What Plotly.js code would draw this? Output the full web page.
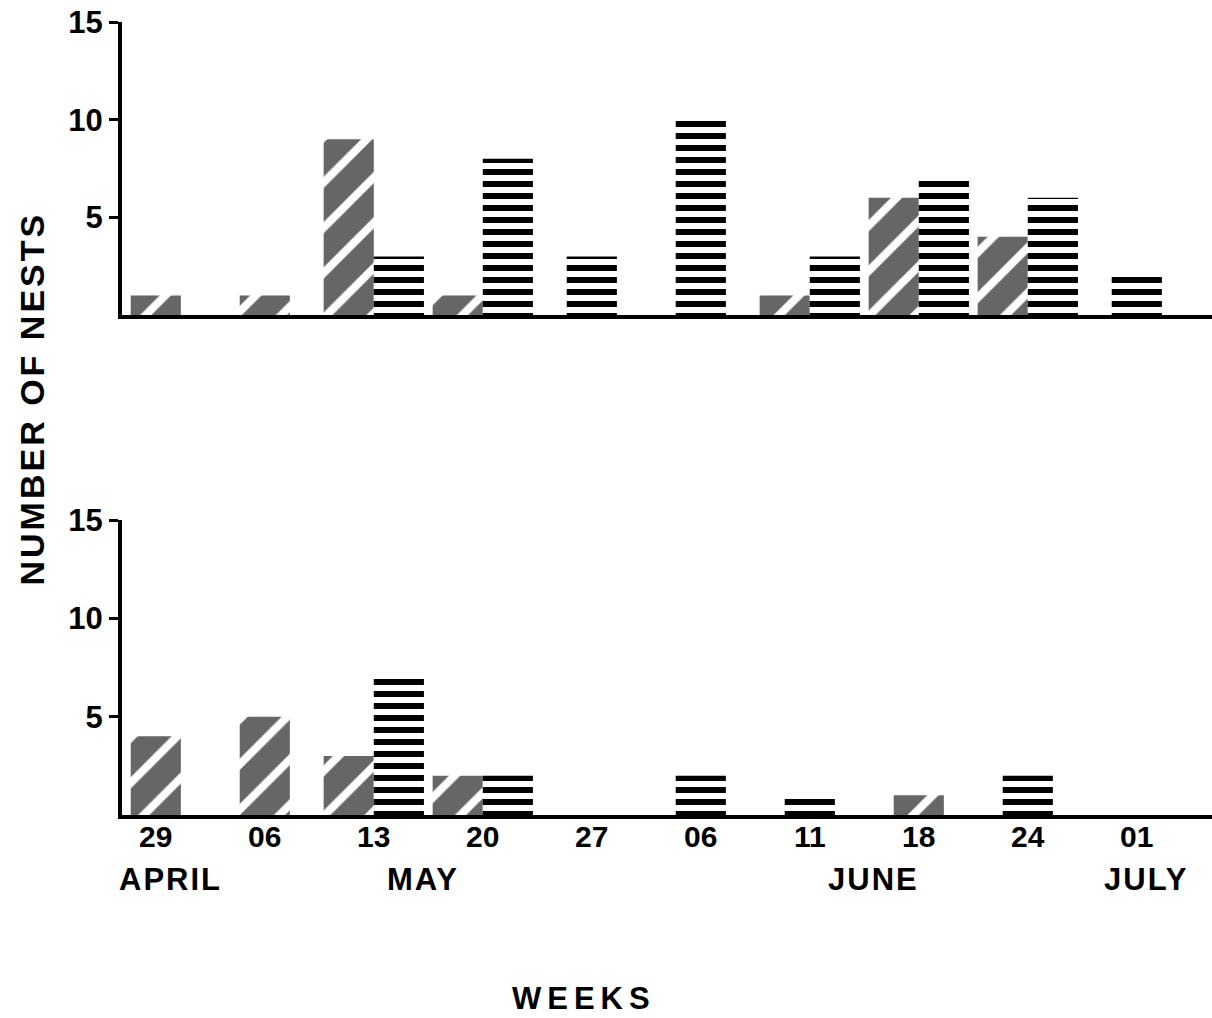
<!DOCTYPE html>
<html><head><meta charset="utf-8">
<script src="https://cdn.plot.ly/plotly-3.0.1.min.js"></script>
<style>html,body{margin:0;padding:0;background:#fff}</style>
</head><body>
<div id="chart" style="width:1212px;height:1018px"></div>
<script>
// ---- data ----
const weeks = ['29 Apr','06 May','13 May','20 May','27 May','06 Jun','11 Jun','18 Jun','24 Jun','01 Jul'];
const dayLabels = ['29','06','13','20','27','06','11','18','24','01'];
const monthLabels = ['APRIL','MAY','JUNE','JULY'];
const yTicks = [5,10,15];
const topDiagonal = [1,1,9,1,0,0,1,6,4,0];
const topHorizontal = [0,0,3,8,3,10,3,7,6,2];
const bottomDiagonal = [4,5,3,2,0,0,0,1,0,0];
const bottomHorizontal = [0,0,7,2,0,2,1,0,2,0];

// ---- styling ----
const BW = 0.46;
function offs(own, other, first){
  return own.map((v,i)=> other[i] > 0 ? (first ? -BW : 0) : -BW/2);
}
const diagPattern = {shape:'/', bgcolor:'#666666', fgcolor:'#ffffff', size:32, solidity:0.25, fillmode:'replace'};
const horizPattern = {shape:'-', bgcolor:'#ffffff', fgcolor:'#000000', size:12, solidity:0.5, fillmode:'replace'};

function diagTrace(vals, other, xa, ya){
  return {type:'bar', x:weeks, y:vals, xaxis:xa, yaxis:ya, width:BW, offset:offs(vals, other, true),
    marker:{color:'#666666', pattern:diagPattern, line:{width:0}}, hoverinfo:'skip'};
}
function horizTrace(vals, other, xa, ya){
  return {type:'bar', x:weeks, y:vals, xaxis:xa, yaxis:ya, width:BW, offset:offs(vals, other, false),
    marker:{color:'#ffffff', pattern:horizPattern, line:{width:0}}, hoverinfo:'skip'};
}

const data = [
  diagTrace(topDiagonal, topHorizontal, 'x', 'y'),
  horizTrace(topHorizontal, topDiagonal, 'x', 'y'),
  diagTrace(bottomDiagonal, bottomHorizontal, 'x2', 'y2'),
  horizTrace(bottomHorizontal, bottomDiagonal, 'x2', 'y2')
];

const FONT = 'Liberation Sans, Arial, Helvetica, sans-serif';
const xCommon = {type:'category', range:[-0.31, 9.69], domain:[122/1212, 1], showline:true, linewidth:4, linecolor:'#000',
  showgrid:false, zeroline:false, ticks:'', fixedrange:true};
const yCommon = {range:[0,15], tickvals:yTicks, ticks:'outside', ticklen:9, tickwidth:3, tickcolor:'#000',
  showline:true, linewidth:4, linecolor:'#000', showgrid:false, zeroline:false, fixedrange:true,
  tickfont:{family:FONT, size:31, color:'#000', weight:'bold'}};

const monthX = [171, 423, 873, 1146].map(v=>v/1212);
const annotations = monthLabels.map((m,i)=>({text:m, xref:'paper', yref:'paper', x:monthX[i], y:1-879/1018,
  xanchor:'center', yanchor:'middle', showarrow:false, font:{family:FONT, size:31, color:'#000', weight:'bold'}}));
annotations.push({text:'NUMBER OF NESTS', xref:'paper', yref:'paper', x:32/1212, y:1-399/1018, textangle:-90,
  xanchor:'center', yanchor:'middle', showarrow:false, font:{family:FONT, size:34, color:'#000', weight:'bold'}});
annotations.push({text:'WEEKS', xref:'paper', yref:'paper', x:584/1212, y:1-998/1018,
  xanchor:'center', yanchor:'middle', showarrow:false, font:{family:FONT, size:31, color:'#000', weight:'bold'}});

const layout = {
  width:1212, height:1018, margin:{l:0,r:0,t:0,b:0}, paper_bgcolor:'#fff', plot_bgcolor:'#fff',
  barmode:'overlay', showlegend:false,
  font:{family:FONT, color:'#000'},
  xaxis:Object.assign({}, xCommon, {anchor:'y', showticklabels:false}),
  yaxis:Object.assign({}, yCommon, {anchor:'x', domain:[1-315/1018, 1-22/1018]}),
  xaxis2:Object.assign({}, xCommon, {anchor:'y2', showticklabels:true, tickvals:weeks, ticktext:dayLabels,
    ticklabelstandoff:-8, tickfont:{family:FONT, size:30, color:'#000', weight:'bold'}}),
  yaxis2:Object.assign({}, yCommon, {anchor:'x2', domain:[1-815/1018, 1-520/1018]}),
  annotations:annotations
};

Plotly.newPlot('chart', data, layout, {staticPlot:true}).then(()=>{
  document.querySelectorAll('.annotation-text').forEach(t=>{
    const s = t.textContent;
    if (s === 'WEEKS') t.style.letterSpacing = '6px';
    else if (s === 'NUMBER OF NESTS') t.style.letterSpacing = '3px';
    else t.style.letterSpacing = '2px';
  });
});
</script>
</body></html>
